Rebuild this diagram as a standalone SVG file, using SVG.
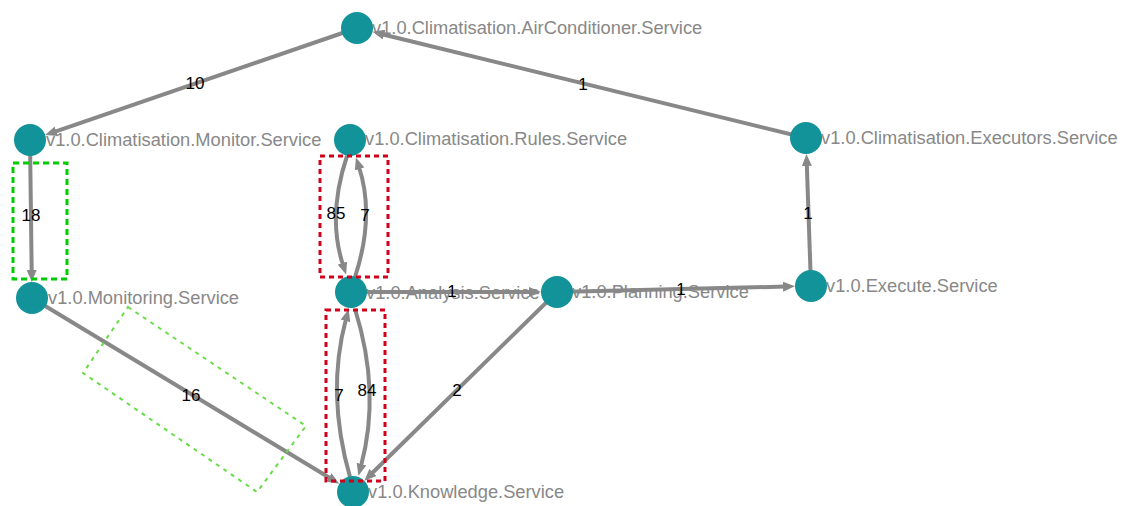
<svg xmlns="http://www.w3.org/2000/svg" width="1130" height="506" viewBox="0 0 1130 506">
<style>
.edge{fill:none;stroke:#888;stroke-width:4;marker-end:url(#arr)}
.node{fill:#12939A}
.nl{font-family:"Liberation Sans",Arial,sans-serif;font-size:18.3px;fill:#888}
.el{font-family:"Liberation Sans",Arial,sans-serif;font-size:17px;fill:#000;text-anchor:middle}
.red{fill:none;stroke:#d0021b;stroke-width:3;stroke-dasharray:5 4}
.grn{fill:none;stroke:#00cc00;stroke-width:3;stroke-dasharray:6 4}
.lgrn{fill:none;stroke:#66dd44;stroke-width:2;stroke-dasharray:4 5}
</style>
<defs>
<marker id="arr" viewBox="0 0 12 10" refX="2" refY="5" markerWidth="12" markerHeight="10" markerUnits="userSpaceOnUse" orient="auto">
<path d="M0,0 L12,5 L0,10 z" fill="#888"/>
</marker>
</defs>
<rect width="1130" height="506" fill="#fff"/>
<g id="connectors">
<path class="edge" d="M357,28 L54.5,131.8"/>
<path class="edge" d="M806,138 L382.2,34.2"/>
<path class="edge" d="M30,140 L31.7,272"/>
<path class="edge" d="M347,156 Q327,216 343,265"/>
<path class="edge" d="M355,277 Q375,216 359,167"/>
<path class="edge" d="M351,292 L531,292"/>
<path class="edge" d="M557,292 L785,286.6"/>
<path class="edge" d="M811,286 L806.8,164"/>
<path class="edge" d="M32,298 L330.7,478.5"/>
<path class="edge" d="M350,477 Q326,393 346,319"/>
<path class="edge" d="M355,309 Q381,392 361,466"/>
<path class="edge" d="M557,292 L371.5,473.8"/>
</g>
<g id="n-airconditioner"><circle class="node" cx="357" cy="28" r="16"/><text class="nl" x="372" y="34">v1.0.Climatisation.AirConditioner.Service</text></g>
<g id="n-monitor"><circle class="node" cx="30" cy="140" r="16"/><text class="nl" x="46" y="146">v1.0.Climatisation.Monitor.Service</text></g>
<g id="n-rules"><circle class="node" cx="350" cy="140" r="16"/><text class="nl" x="365" y="145">v1.0.Climatisation.Rules.Service</text></g>
<g id="n-executors"><circle class="node" cx="806" cy="138" r="16"/><text class="nl" x="821" y="144">v1.0.Climatisation.Executors.Service</text></g>
<g id="n-monitoring"><circle class="node" cx="32" cy="298" r="16"/><text class="nl" x="48" y="304">v1.0.Monitoring.Service</text></g>
<g id="n-analysis"><circle class="node" cx="351" cy="292" r="16"/><text class="nl" x="366" y="299">v1.0.Analysis.Service</text></g>
<g id="n-planning"><circle class="node" cx="557" cy="292" r="16"/><text class="nl" x="572" y="298">v1.0.Planning.Service</text></g>
<g id="n-execute"><circle class="node" cx="811" cy="286" r="16"/><text class="nl" x="826" y="292">v1.0.Execute.Service</text></g>
<g id="n-knowledge"><circle class="node" cx="353" cy="492" r="16"/><text class="nl" x="368" y="498">v1.0.Knowledge.Service</text></g>
<g id="edge-labels">
<text class="el" x="195" y="89">10</text>
<text class="el" x="583" y="90">1</text>
<text class="el" x="31" y="221">18</text>
<text class="el" x="336" y="219">85</text>
<text class="el" x="365" y="221">7</text>
<text class="el" x="452" y="297">1</text>
<text class="el" x="681" y="295">1</text>
<text class="el" x="808" y="219">1</text>
<text class="el" x="191" y="401">16</text>
<text class="el" x="339" y="401">7</text>
<text class="el" x="367" y="396">84</text>
<text class="el" x="457" y="396">2</text>
</g>
<g id="highlights">
<rect class="grn" x="13" y="163" width="54" height="116"/>
<rect class="red" x="320" y="156" width="68" height="121"/>
<rect class="red" x="326" y="310" width="59" height="171"/>
<polygon class="lgrn" points="128,307 306,426 257,492 83,373"/>
</g>
</svg>
